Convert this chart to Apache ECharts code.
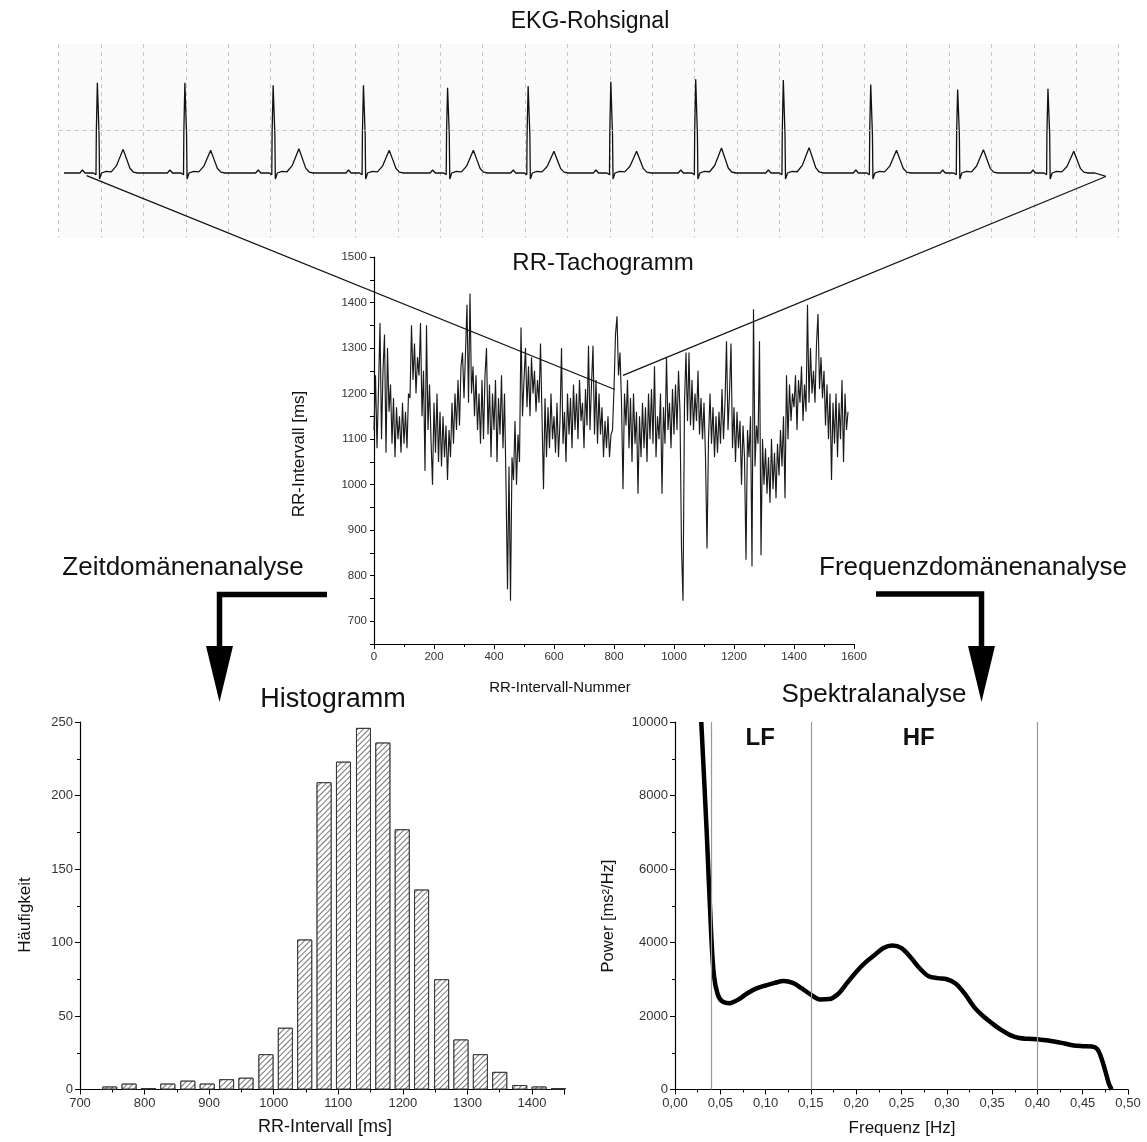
<!DOCTYPE html>
<html><head><meta charset="utf-8">
<script src="https://cdn.jsdelivr.net/npm/echarts@6/dist/echarts.min.js"></script>
<style>html,body{margin:0;padding:0;background:#fff}#c{width:1147px;height:1142px}</style>
</head><body><div id="c"></div>
<script>
const FONT = 'Arial, "Liberation Sans", sans-serif';

// ---------- EKG raw signal ----------
const ekgRTimes = [0.461, 1.493, 2.534, 3.599, 4.591, 5.541, 6.516, 7.517, 8.550, 9.581, 10.606, 11.671];
const ekgRAmp   = [1.05, 1.05, 1.02, 1.02, 0.99, 1.01, 1.06, 1.09, 1.08, 1.03, 0.97, 0.98];
const ekgTAmp   = [0.275, 0.264, 0.283, 0.264, 0.264, 0.252, 0.252, 0.29, 0.295, 0.264, 0.271, 0.252];
// beat template (offset from R peak in s)
const ekgTplOffset = [-0.30, -0.21, -0.18, -0.15, -0.05, -0.02, -0.016, -0.004, 0.004, 0.016, 0.022, 0.045, 0.10, 0.16, 0.22, 0.26, 0.30, 0.34, 0.38, 0.42, 0.47, 0.55];
const ekgTplBase   = [0.0, 0.0, 0.035, 0.0, 0.0, -0.02, 0.48, 0.0, 0.0, 0.45, -0.07, 0.0, 0.02, 0.0, 0.0, 0.0, 0.0, 0.0, 0.0, 0.0, 0.0, 0.0];
const ekgTplR      = [0, 0, 0, 0, 0, 0, 0, 1, 1, 0, 0, 0, 0, 0, 0, 0, 0, 0, 0, 0, 0, 0];
const ekgTplT      = [0, 0, 0, 0, 0, 0, 0, 0, 0, 0, 0, 0, 0, 0.05, 0.3, 0.65, 1, 0.6, 0.2, 0.04, 0, 0];
const ekgStart = [0.064, 0.0];
const ekgEnd = [12.35, -0.04];

// ---------- RR tachogram (every 5th interval) ----------
const tachoStep = 5;
const tachoValues = [
 1120,1240,1080,1210,1355,1100,1250,1330,1070,1300,
 1160,1220,1090,1190,1060,1170,1100,1150,1070,1180,
 1090,1160,1080,1200,1190,1350,1230,1310,1200,1280,
 1240,1355,1150,1250,1030,1350,1120,1220,1100,1000,
 1180,1070,1200,1050,1160,1040,1150,1060,1130,1010,
 1120,1060,1180,1090,1200,1120,1230,1130,1260,1290,
 1190,1290,1395,1180,1420,1200,1260,1150,1240,1120,
 1200,1090,1230,1100,1240,1300,1110,1220,1060,1200,
 1120,1230,1050,1190,1110,1240,1080,1200,1000,770,
 1040,745,1060,1010,1140,1000,1110,1050,1345,1150,
 1230,1300,1170,1260,1150,1280,1200,1250,1160,1230,
 1180,1310,1150,990,1190,1060,1170,1080,1200,1100,
 1150,1070,1180,1060,1140,1300,1090,1160,1050,1200,
 1110,1190,1080,1220,1120,1200,1100,1230,1140,1180,
 1080,1210,1130,1305,1120,1220,1305,1110,1230,1090,
 1200,1110,1170,1060,1140,1080,1150,1060,1110,1120,
 1210,1330,1370,1240,1290,1180,990,1200,1130,1230,
 1080,1190,1050,1200,1090,1160,980,1150,1060,1180,
 1080,1170,1050,1200,1100,1210,1090,1260,1060,1150,
 1100,1200,980,1170,1090,1280,1120,1180,1080,1210,
 1110,1220,1120,1250,1160,860,745,1180,1290,1140,
 1290,1130,1230,1120,1200,1140,1250,1110,1190,1100,
 1180,1060,860,1100,1200,1090,1170,1060,1150,1070,
 1160,1090,1210,1100,1180,1315,1120,1200,1310,1080,
 1170,1050,1160,1080,1140,1000,1130,1060,835,1120,
 1060,1150,820,1385,1040,1130,1090,1315,845,1100,
 1000,1080,980,1060,960,1100,990,1070,970,1090,
 1020,1120,1040,1150,970,1240,1100,1220,1140,1200,
 1170,1240,1120,1230,1180,1260,1140,1220,1160,1395,
 1180,1300,1200,1250,1180,1310,1375,1210,1280,1190,
 1250,1130,1220,1100,1200,1010,1180,1090,1200,1060,
 1180,1100,1230,1050,1200,1120,1160
];
const connectorTacho = [[803, 1209], [830, 1240]];

// ---------- Histogram ----------
const histCenters = [746, 776, 806, 836, 867, 897, 927, 957, 988, 1018, 1048, 1078, 1108, 1139, 1169, 1199, 1229, 1260, 1290, 1320, 1350, 1381, 1411, 1441];
const histCounts  = [2, 4, 1, 4, 6, 4, 7, 8, 24, 42, 102, 209, 223, 246, 236, 177, 136, 75, 34, 24, 12, 3, 2, 1];

// ---------- Spectrum ----------
const specFreq  = [0.029, 0.035, 0.040, 0.043, 0.047, 0.052, 0.060, 0.070, 0.080, 0.090, 0.100, 0.110, 0.120, 0.130, 0.140, 0.150, 0.160, 0.170, 0.180, 0.190, 0.200, 0.210, 0.220, 0.230, 0.240, 0.250, 0.260, 0.270, 0.280, 0.290, 0.300, 0.310, 0.320, 0.330, 0.340, 0.350, 0.360, 0.370, 0.380, 0.390, 0.400, 0.410, 0.420, 0.430, 0.440, 0.450, 0.460, 0.466, 0.470, 0.475, 0.479, 0.482];
const specPower = [10000, 7000, 4200, 3100, 2600, 2400, 2350, 2450, 2620, 2750, 2830, 2900, 2950, 2900, 2750, 2580, 2450, 2460, 2600, 2900, 3200, 3450, 3650, 3850, 3920, 3850, 3600, 3300, 3080, 3030, 3000, 2880, 2600, 2250, 2000, 1800, 1620, 1480, 1400, 1380, 1370, 1340, 1300, 1250, 1200, 1180, 1170, 1100, 900, 500, 150, 0];
const bandLimits = [0.045, 0.15, 0.40];
const bandLabels = [{ text: 'LF', f: 0.094, p: 9550 }, { text: 'HF', f: 0.269, p: 9550 }];

// ---------- build series data ----------
const ekgData = [ekgStart];
ekgRTimes.forEach((t, i) => {
  ekgTplOffset.forEach((o, j) => {
    ekgData.push([t + o, ekgTplBase[j] + ekgTplR[j] * ekgRAmp[i] + ekgTplT[j] * ekgTAmp[i]]);
  });
});
ekgData.push(ekgEnd);
const tachoData = tachoValues.map((v, i) => [i * tachoStep, v]);
const histData = histCenters.map((c, i) => [c, histCounts[i]]);
const specData = specFreq.map((f, i) => [f, specPower[i]]);

const axisLineBlack = { show: true, lineStyle: { color: '#000', width: 1.2 } };
const tickStyle = { show: true, length: 5, lineStyle: { color: '#000', width: 1 } };
const minorStyle = { show: true, splitNumber: 2, length: 3, lineStyle: { color: '#000', width: 1 } };
const lbl = (size, fmt) => ({ fontFamily: FONT, fontSize: size, color: '#333', margin: 7, formatter: fmt || (v => String(v)) });
const hundreds = v => (v % 100 === 0 ? String(v) : '');

const chart = echarts.init(document.getElementById('c'), null, { renderer: 'canvas' });
const option = {
  backgroundColor: '#ffffff',
  animation: false,
  grid: [
    { left: 58.6, top: 44, width: 1060, height: 193.5, show: true, backgroundColor: '#fafafa', borderWidth: 0 },
    { left: 374, top: 257, width: 480, height: 387 },
    { left: 80, top: 722, width: 484.3, height: 367.5 },
    { left: 675, top: 722, width: 453, height: 367.5 }
  ],
  xAxis: [
    { gridIndex: 0, type: 'value', min: 0, max: 12.5, interval: 0.5,
      axisLine: { show: false }, axisTick: { show: false }, axisLabel: { show: false },
      splitLine: { show: true, lineStyle: { color: '#c4c4c4', type: [4, 4], width: 1 } } },
    { gridIndex: 1, type: 'value', min: 0, max: 1600, interval: 200,
      axisLine: axisLineBlack, axisTick: tickStyle, minorTick: minorStyle,
      axisLabel: lbl(11.5), splitLine: { show: false } },
    { gridIndex: 2, type: 'value', min: 700, max: 1450, interval: 100,
      axisLine: axisLineBlack, axisTick: tickStyle, minorTick: minorStyle,
      axisLabel: lbl(13, hundreds), splitLine: { show: false } },
    { gridIndex: 3, type: 'value', min: 0, max: 0.5, interval: 0.05,
      axisLine: axisLineBlack, axisTick: tickStyle, minorTick: minorStyle,
      axisLabel: lbl(13, v => v.toFixed(2).replace('.', ',')), splitLine: { show: false } }
  ],
  yAxis: [
    { gridIndex: 0, type: 'value', min: -0.75, max: 1.5, show: false, splitLine: { show: false } },
    { gridIndex: 1, type: 'value', min: 650, max: 1500, interval: 50,
      axisLine: axisLineBlack, axisTick: { show: true, length: 4, lineStyle: { color: '#000' } },
      axisLabel: lbl(11.5, hundreds), splitLine: { show: false } },
    { gridIndex: 2, type: 'value', min: 0, max: 250, interval: 50,
      axisLine: axisLineBlack, axisTick: tickStyle, minorTick: minorStyle,
      axisLabel: lbl(13), splitLine: { show: false } },
    { gridIndex: 3, type: 'value', min: 0, max: 10000, interval: 2000,
      axisLine: axisLineBlack, axisTick: tickStyle, minorTick: minorStyle,
      axisLabel: lbl(13), splitLine: { show: false } }
  ],
  series: [
    { type: 'line', xAxisIndex: 0, yAxisIndex: 0, data: ekgData, showSymbol: false, silent: true,
      lineStyle: { color: '#111', width: 1.3 },
      markLine: { silent: true, symbol: 'none', label: { show: false },
        lineStyle: { color: '#c4c4c4', type: [4, 4], width: 1 }, data: [{ yAxis: 0.5 }] } },
    { type: 'line', xAxisIndex: 1, yAxisIndex: 1, data: tachoData, showSymbol: false, silent: true,
      lineStyle: { color: '#1a1a1a', width: 1.15 } },
    { type: 'bar', xAxisIndex: 2, yAxisIndex: 2, data: histData, barWidth: 15, silent: true,
      itemStyle: { color: '#ffffff', borderColor: '#333', borderWidth: 1,
        decal: { symbol: 'rect', symbolSize: 1, dashArrayX: [[1, 0]], dashArrayY: [1, 2.2],
                 rotation: -Math.PI / 4, color: '#777', backgroundColor: '#ffffff' } } },
    { type: 'line', xAxisIndex: 3, yAxisIndex: 3, data: specData, showSymbol: false, silent: true,
      smooth: 0.35, lineStyle: { color: '#000', width: 4.5 },
      markLine: { silent: true, symbol: 'none', label: { show: false },
        lineStyle: { color: '#999', type: 'solid', width: 1.2 },
        data: bandLimits.map(f => ({ xAxis: f })) } }
  ]
};
chart.setOption(option);

// ---------- annotations ----------
function txt(text, x, y, size, opts) {
  opts = opts || {};
  return { type: 'text', x: x, y: y, rotation: opts.rot || 0, z: 100,
    style: { text: text, font: (opts.bold ? 'bold ' : '') + size + 'px ' + FONT, fill: '#111',
      textAlign: 'center', textVerticalAlign: 'middle', align: 'center', verticalAlign: 'middle' } };
}
const pL0 = chart.convertToPixel({ gridIndex: 0 }, [0.33, -0.03]);
const pR0 = chart.convertToPixel({ gridIndex: 0 }, ekgEnd);
const pL1 = chart.convertToPixel({ gridIndex: 1 }, connectorTacho[0]);
const pR1 = chart.convertToPixel({ gridIndex: 1 }, connectorTacho[1]);
const graphics = [
  txt('EKG-Rohsignal', 590, 22, 23),
  txt('RR-Tachogramm', 603, 263, 24),
  txt('Histogramm', 333, 700, 27),
  txt('Spektralanalyse', 874, 695, 26),
  txt('Zeitdomänenanalyse', 183, 568, 26),
  txt('Frequenzdomänenanalyse', 973, 568, 26),
  txt('RR-Intervall-Nummer', 560, 688, 15),
  txt('RR-Intervall [ms]', 299, 454, 17, { rot: Math.PI / 2 }),
  txt('RR-Intervall [ms]', 325, 1127, 18),
  txt('Häufigkeit', 25, 915, 17, { rot: Math.PI / 2 }),
  txt('Frequenz [Hz]', 902, 1128, 17),
  txt('Power [ms²/Hz]', 608, 916, 16.5, { rot: Math.PI / 2 }),
  { type: 'line', z: 90, shape: { x1: pL0[0], y1: pL0[1], x2: pL1[0], y2: pL1[1] }, style: { stroke: '#111', lineWidth: 1.2 } },
  { type: 'line', z: 90, shape: { x1: pR0[0], y1: pR0[1], x2: pR1[0], y2: pR1[1] }, style: { stroke: '#111', lineWidth: 1.2 } },
  { type: 'polyline', z: 90, shape: { points: [[327, 594.5], [219.5, 594.5], [219.5, 650]] }, style: { stroke: '#000', lineWidth: 5.5, fill: null } },
  { type: 'polygon', z: 90, shape: { points: [[206, 646], [233, 646], [219.5, 702]] }, style: { fill: '#000' } },
  { type: 'polyline', z: 90, shape: { points: [[876, 594], [981.5, 594], [981.5, 650]] }, style: { stroke: '#000', lineWidth: 5.5, fill: null } },
  { type: 'polygon', z: 90, shape: { points: [[968, 646], [995, 646], [981.5, 702]] }, style: { fill: '#000' } }
];
bandLabels.forEach(b => {
  const p = chart.convertToPixel({ gridIndex: 3 }, [b.f, b.p]);
  graphics.push(txt(b.text, p[0], p[1], 24, { bold: true }));
});
chart.setOption({ graphic: graphics });
</script>
</body></html>
